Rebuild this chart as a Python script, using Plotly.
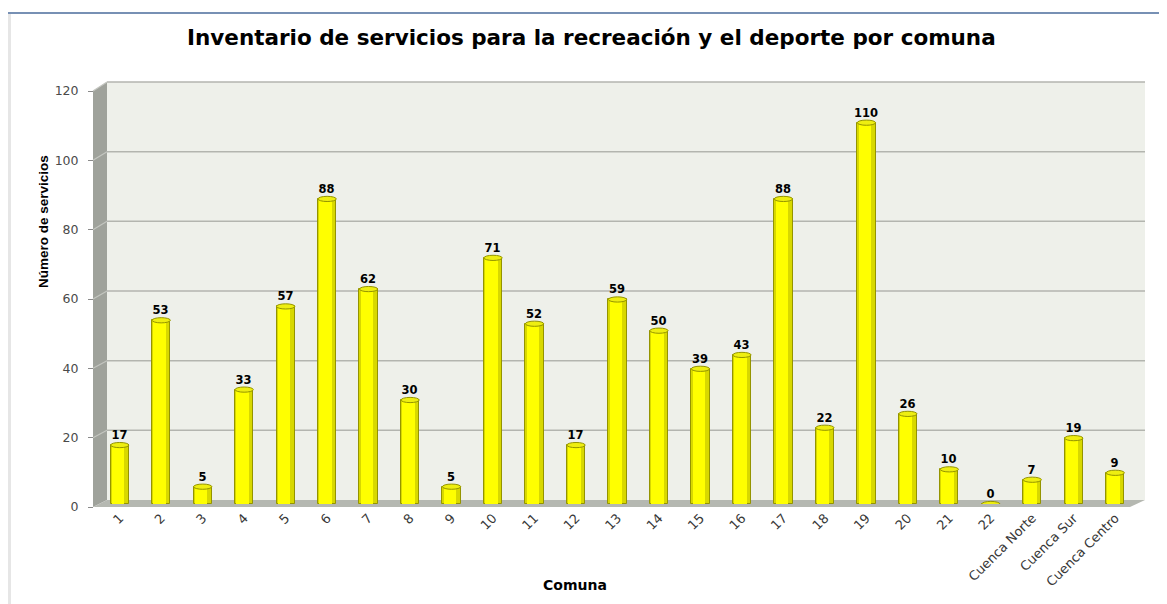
import plotly.graph_objects as go

categories = ["1", "2", "3", "4", "5", "6", "7", "8", "9", "10", "11", "12", "13",
              "14", "15", "16", "17", "18", "19", "20", "21", "22",
              "Cuenca Norte", "Cuenca Sur", "Cuenca Centro"]
values = [17, 53, 5, 33, 57, 88, 62, 30, 5, 71, 52, 17, 59,
          50, 39, 43, 88, 22, 110, 26, 10, 0, 7, 19, 9]
y_ticks = [0, 20, 40, 60, 80, 100, 120]

title_text = "Inventario de servicios para la recreación y el deporte por comuna"
y_title = "Número de servicios"
x_title = "Comuna"

OFF = 8  # page body margin compensation
W, H = 1167, 604
ML, MR, MT, MB = 85, 39, 80, 105
PW, PH = W - ML - MR, H - MT - MB


def px(x):
    return (x - OFF - ML) / PW


def py(y):
    return (H - MB - (y - OFF)) / PH


def tick_y(v):
    return 507 - v * 416 / 120


def wall_y(v):
    return 500 - v * 418 / 120


fig = go.Figure()

fig.add_trace(go.Bar(
    x=categories, y=values, yaxis="y2", width=0.44, offset=-0.22,
    marker=dict(color="#d8d800", line=dict(color="#949400", width=1)),
    text=[str(v) for v in values], textposition="outside", constraintext="none",
    textfont=dict(family="DejaVu Sans", size=11.5, color="#000000", weight="bold"),
    cliponaxis=False, hoverinfo="x+y", showlegend=False,
))
fig.add_trace(go.Bar(
    x=categories, y=values, yaxis="y2", width=0.30, offset=-0.19,
    marker=dict(color="#ffff00", line=dict(width=0)),
    hoverinfo="skip", showlegend=False,
))
fig.add_trace(go.Scatter(x=[categories[0]], y=[0], yaxis="y", mode="markers",
                         marker=dict(opacity=0), hoverinfo="skip", showlegend=False))

shapes = []
shapes.append(dict(type="rect", xref="paper", yref="paper", x0=px(6), x1=px(11),
                   y0=py(612), y1=py(14), fillcolor="#e6e6e6", line=dict(width=0), layer="below"))
shapes.append(dict(type="line", xref="paper", yref="paper", x0=px(5), x1=px(1180),
                   y0=py(13), y1=py(13), line=dict(color="#4a6b9b", width=1.5), layer="below"))
shapes.append(dict(type="line", xref="paper", yref="paper", x0=px(5), x1=px(5),
                   y0=py(13), y1=py(612), line=dict(color="#4a6b9b", width=1.5), layer="below"))
shapes.append(dict(type="rect", xref="paper", yref="paper", x0=px(107), x1=px(1145),
                   y0=py(500), y1=py(82), fillcolor="#eef0ea", line=dict(width=0), layer="below"))
shapes.append(dict(type="path", xref="paper", yref="paper",
                   path=f"M {px(93)} {py(91)} L {px(107)} {py(82)} L {px(107)} {py(500)} L {px(93)} {py(507)} Z",
                   fillcolor="#9fa29b", line=dict(width=0), layer="below"))
shapes.append(dict(type="path", xref="paper", yref="paper",
                   path=f"M {px(93)} {py(507)} L {px(107)} {py(500)} L {px(1145)} {py(500)} L {px(1130)} {py(507)} Z",
                   fillcolor="#b5b8b1", line=dict(width=0), layer="below"))
for v in y_ticks[1:]:
    shapes.append(dict(type="line", xref="paper", yref="paper", x0=px(107), x1=px(1145),
                       y0=py(wall_y(v)), y1=py(wall_y(v)), line=dict(color="#b3b5af", width=1.5), layer="below"))
    shapes.append(dict(type="line", xref="paper", yref="paper", x0=px(93), x1=px(107),
                       y0=py(tick_y(v)), y1=py(wall_y(v)), line=dict(color="#c4c6c0", width=1.2), layer="below"))
for i, v in enumerate(values):
    shapes.append(dict(type="circle", xref="x", yref="y2", x0=i - 0.22, x1=i + 0.22,
                       y0=v - 0.75, y1=v + 0.75, fillcolor="#eeee10",
                       line=dict(color="#949400", width=1), layer="above"))

annotations = [
    dict(text="<b>" + title_text + "</b>", xref="paper", yref="paper", x=px(591), y=py(38),
         showarrow=False, font=dict(family="DejaVu Sans", size=21.5, color="#000000"),
         xanchor="center", yanchor="middle"),
    dict(text="<b>" + y_title + "</b>", xref="paper", yref="paper", x=px(43), y=py(222), textangle=-90,
         showarrow=False, font=dict(family="Liberation Sans", size=13.5, color="#000000"),
         xanchor="center", yanchor="middle"),
    dict(text="<b>" + x_title + "</b>", xref="paper", yref="paper", x=px(575), y=py(585),
         showarrow=False, font=dict(family="DejaVu Sans", size=14, color="#000000"),
         xanchor="center", yanchor="middle"),
]

fig.update_layout(
    width=W, height=H,
    margin=dict(l=ML, r=MR, t=MT, b=MB),
    paper_bgcolor="#ffffff", plot_bgcolor="rgba(0,0,0,0)",
    barmode="overlay", bargap=0,
    xaxis=dict(type="category", categoryorder="array", categoryarray=categories,
               range=[-0.5, len(categories) - 0.5],
               domain=[6 / PW, 1], tickangle=-45, showgrid=False, showline=False,
               zeroline=False, ticks="",
               tickfont=dict(family="DejaVu Sans", size=13, color="#383838")),
    yaxis=dict(range=[0, 120], domain=[0, 416 / PH], anchor="free", position=0,
               tickvals=y_ticks, ticks="outside", ticklen=5, tickcolor="#8a8a8a",
               ticklabelstandoff=7,
               showgrid=False, zeroline=False, showline=False,
               tickfont=dict(family="DejaVu Sans", size=12.5, color="#4a4a4a")),
    yaxis2=dict(range=[0, 120], domain=[3 / PH, 1], anchor="x", visible=False,
                showgrid=False, zeroline=False),
    shapes=shapes, annotations=annotations,
)

fig.write_html("out.html")
